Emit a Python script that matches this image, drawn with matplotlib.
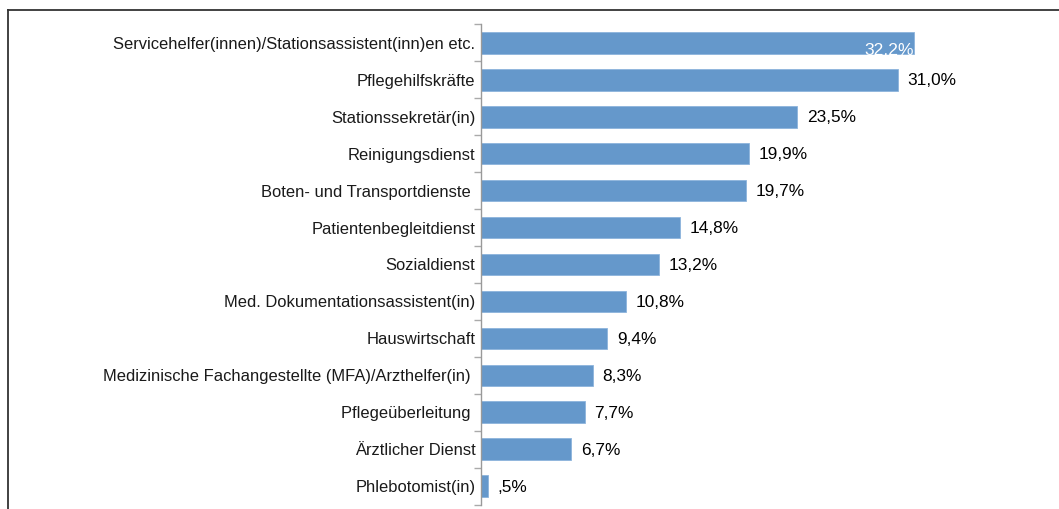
import matplotlib
matplotlib.use("Agg")
import matplotlib.pyplot as plt
from matplotlib.lines import Line2D
import numpy as np

plt.rcParams['font.family'] = ['Liberation Sans', 'DejaVu Sans']

categories = ['Servicehelfer(innen)/Stationsassistent(inn)en etc.',
              'Pflegehilfskräfte',
              'Stationssekretär(in)',
              'Reinigungsdienst',
              'Boten- und Transportdienste ',
              'Patientenbegleitdienst',
              'Sozialdienst',
              'Med. Dokumentationsassistent(in)',
              'Hauswirtschaft',
              'Medizinische Fachangestellte (MFA)/Arzthelfer(in) ',
              'Pflegeüberleitung ',
              'Ärztlicher Dienst',
              'Phlebotomist(in)']
values = [32.2, 31.0, 23.5, 19.9, 19.7, 14.8, 13.2, 10.8, 9.4, 8.3, 7.7, 6.7, 0.5]


def fmt(v):
    s = f"{v:.1f}".replace('.', ',')
    if s.startswith('0'):
        s = s[1:]
    return s + '%'


W, H = 1059, 509
fig = plt.figure(figsize=(W / 100, H / 100), dpi=100)
ax = fig.add_axes([481 / W, 1 - 504.5 / H, (1040 - 481) / W, (504.5 - 24.5) / H])

y = np.arange(len(categories))
ax.barh(y, values, height=0.58, color='#6598CB', edgecolor='#8DB4DC', linewidth=0.6)
ax.set_ylim(len(categories) - 0.5, -0.5)
ax.set_xlim(0, (1040 - 481) / 13.45)

ax.set_yticks(y)
ax.set_yticklabels(categories, fontsize=11.9, color='#1a1a1a')
ax.tick_params(axis='y', which='major', length=0, pad=4)
ax.set_yticks(np.arange(len(categories) + 1) - 0.5, minor=True)
ax.tick_params(axis='y', which='minor', length=5, color='#aaaaaa', width=1)
ax.set_xticks([])

for s in ['top', 'right', 'bottom']:
    ax.spines[s].set_visible(False)
ax.spines['left'].set_color('#999999')
ax.spines['left'].set_linewidth(1)

for i, v in enumerate(values):
    if i == 0:
        ax.text(v, i + 0.2, fmt(v), ha='right', va='center', fontsize=12.6,
                color='white', clip_on=True)
    else:
        ax.annotate(fmt(v), (v, i + 0.03), xytext=(7, 0), textcoords='offset points',
                    ha='left', va='center', fontsize=12.4, color='black')

# frame around the chart (only top and left visible)
fig.add_artist(Line2D([8 / W, 8 / W], [0, 1 - 10 / H], color='#333333', linewidth=1.3))
fig.add_artist(Line2D([8 / W, 1], [1 - 10 / H, 1 - 10 / H], color='#333333', linewidth=1.3))

fig.savefig('out.png', dpi=100)
